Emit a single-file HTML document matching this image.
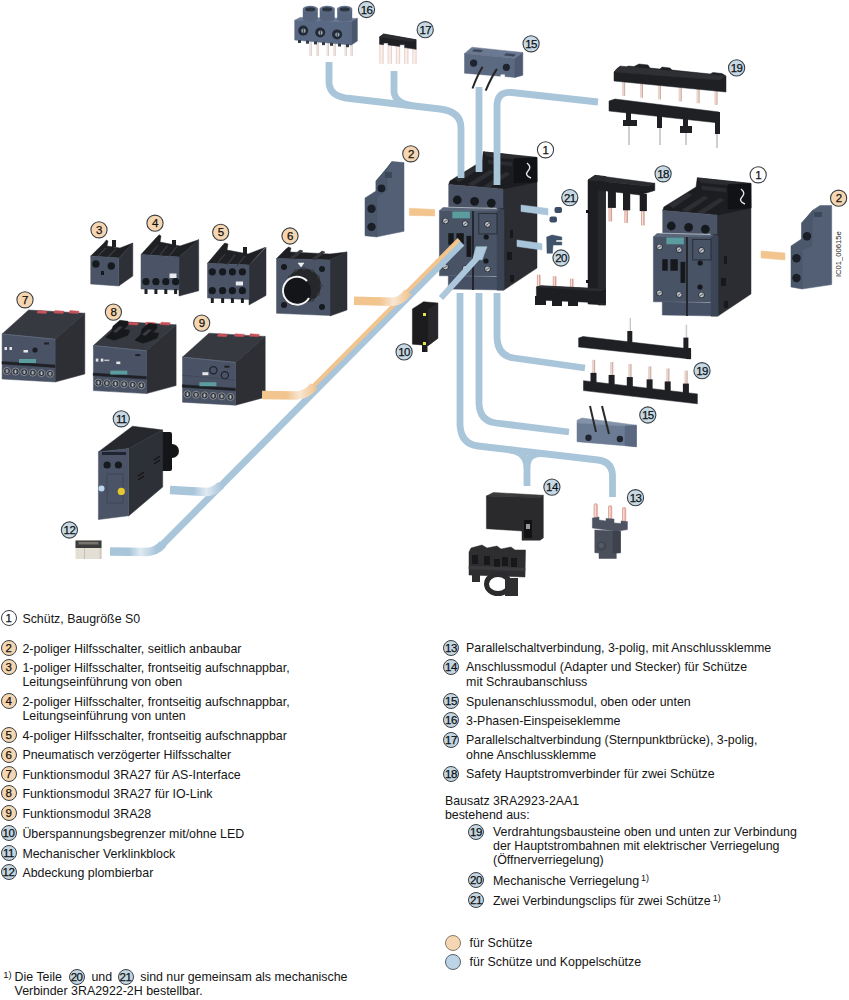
<!DOCTYPE html>
<html><head><meta charset="utf-8">
<style>
html,body{margin:0;padding:0;background:#fff;}
body{width:849px;height:1000px;position:relative;overflow:hidden;font-family:"Liberation Sans",sans-serif;color:#151515;}
.t{position:absolute;font-size:12.4px;line-height:14px;white-space:nowrap;}
.c{position:absolute;width:14px;height:14px;border:1px solid #3a3f44;border-radius:50%;box-sizing:content-box;font-size:11.5px;line-height:14px;text-align:center;letter-spacing:-0.6px;text-indent:-0.6px;color:#111;-webkit-text-stroke:0.25px #111;}
.o{background:#f4d6b0;}
.b{background:#c3d6e2;}
.w{background:#fff;}
svg{position:absolute;left:0;top:0;}
sup{font-size:9px;vertical-align:top;position:relative;top:-3px;margin-left:2px;}
</style></head><body>
<svg id="ill" width="849" height="600" viewBox="0 0 849 600">
<rect x="309.0" y="42" width="2.6" height="14.0" fill="#f1e4e0" />
<rect x="310.90000000000003" y="42" width="0.7" height="14.0" fill="#d4c4c0" />
<rect x="316.0" y="42" width="2.6" height="14.0" fill="#f1e4e0" />
<rect x="317.90000000000003" y="42" width="0.7" height="14.0" fill="#d4c4c0" />
<rect x="326.4" y="42" width="2.6" height="14.0" fill="#f1e4e0" />
<rect x="328.3" y="42" width="0.7" height="14.0" fill="#d4c4c0" />
<rect x="333.0" y="42" width="2.6" height="14.0" fill="#f1e4e0" />
<rect x="334.90000000000003" y="42" width="0.7" height="14.0" fill="#d4c4c0" />
<rect x="344.3" y="42" width="2.6" height="14.0" fill="#f1e4e0" />
<rect x="346.20000000000005" y="42" width="0.7" height="14.0" fill="#d4c4c0" />
<rect x="350.0" y="42" width="2.6" height="14.0" fill="#f1e4e0" />
<rect x="351.90000000000003" y="42" width="0.7" height="14.0" fill="#d4c4c0" />
<polygon points="294.7,20.3 300,17.5 357.4,18.4 351.3,21.7" fill="#6a7a93"  stroke="#6a7a93" stroke-width="0.5" stroke-linejoin="round"/>
<polygon points="294.7,20.3 351.3,21.7 351.3,45 294.7,40" fill="#5a6983"  stroke="#5a6983" stroke-width="0.5" stroke-linejoin="round"/>
<polygon points="351.3,21.7 357.4,18.4 357.4,41 351.3,45" fill="#4a586e"  stroke="#4a586e" stroke-width="0.5" stroke-linejoin="round"/>
<rect x="298" y="40.0" width="3.0" height="3.0" fill="#2f3846" />
<rect x="306" y="40.7" width="3.0" height="3.0" fill="#2f3846" />
<rect x="314" y="41.4" width="3.0" height="3.0" fill="#2f3846" />
<rect x="322" y="42.1" width="3.0" height="3.0" fill="#2f3846" />
<rect x="330" y="42.8" width="3.0" height="3.0" fill="#2f3846" />
<rect x="338" y="43.5" width="3.0" height="3.0" fill="#2f3846" />
<rect x="346" y="44.2" width="3.0" height="3.0" fill="#2f3846" />
<rect x="302.8" y="8.5" width="15.0" height="10.5" fill="#56657d" />
<ellipse cx="310.3" cy="19" rx="7.5" ry="2.5" fill="#56657d"/>
<ellipse cx="310.3" cy="9" rx="7.5" ry="3.2" fill="#64738b"/>
<ellipse cx="310.3" cy="9.4" rx="5.2" ry="2.1" fill="#2c3542"/>
<rect x="319.7" y="8.5" width="15.0" height="10.5" fill="#56657d" />
<ellipse cx="327.2" cy="19" rx="7.5" ry="2.5" fill="#56657d"/>
<ellipse cx="327.2" cy="9" rx="7.5" ry="3.2" fill="#64738b"/>
<ellipse cx="327.2" cy="9.4" rx="5.2" ry="2.1" fill="#2c3542"/>
<rect x="337.2" y="8.5" width="15.0" height="10.5" fill="#56657d" />
<ellipse cx="344.7" cy="19" rx="7.5" ry="2.5" fill="#56657d"/>
<ellipse cx="344.7" cy="9" rx="7.5" ry="3.2" fill="#64738b"/>
<ellipse cx="344.7" cy="9.4" rx="5.2" ry="2.1" fill="#2c3542"/>
<circle cx="303.2" cy="30.6" r="5" fill="#222a36" />
<circle cx="303.5" cy="30.8" r="2.2" fill="#9aa4b2" />
<rect x="302.9" y="28.6" width="0.9" height="4.3" fill="#2a3240" />
<circle cx="320.2" cy="32.5" r="5" fill="#222a36" />
<circle cx="320.5" cy="32.7" r="2.2" fill="#9aa4b2" />
<rect x="319.9" y="30.5" width="0.9" height="4.3" fill="#2a3240" />
<circle cx="337.1" cy="34.4" r="5" fill="#222a36" />
<circle cx="337.40000000000003" cy="34.6" r="2.2" fill="#9aa4b2" />
<rect x="336.8" y="32.4" width="0.9" height="4.3" fill="#2a3240" />
<circle cx="366.5" cy="9.5" r="8.1" fill="#c6d9e5" stroke="#3a3f44" stroke-width="1.1"/>
<text x="366.5" y="13.6" text-anchor="middle" font-size="11.5" letter-spacing="-0.6" fill="#111" stroke="#111" stroke-width="0.25">16</text>
<rect x="379.3" y="43.0" width="4.4" height="20.7" fill="#ecd2cd" />
<rect x="380.3" y="43.0" width="2.2" height="20.7" fill="#f9efed" />
<rect x="387.6" y="44.2" width="4.4" height="19.5" fill="#ecd2cd" />
<rect x="388.6" y="44.2" width="2.2" height="19.5" fill="#f9efed" />
<rect x="395.8" y="45.4" width="4.4" height="18.3" fill="#ecd2cd" />
<rect x="396.8" y="45.4" width="2.2" height="18.3" fill="#f9efed" />
<rect x="404.1" y="46.6" width="4.4" height="17.1" fill="#ecd2cd" />
<rect x="405.1" y="46.6" width="2.2" height="17.1" fill="#f9efed" />
<rect x="412.3" y="47.8" width="4.4" height="15.9" fill="#ecd2cd" />
<rect x="413.3" y="47.8" width="2.2" height="15.9" fill="#f9efed" />
<polygon points="379.5,37 383.6,34 416.2,39.8 416.2,49.3 404.6,47.6 404.6,44.7 399.7,44.7 399.7,46.4 388.1,44.9 388.1,43.1 383.6,43 383.6,44.7 379.5,44.2" fill="#1f2024"  stroke="#1f2024" stroke-width="0.5" stroke-linejoin="round"/>
<polygon points="379.5,37 383.6,34 416.2,39.8 411,41.5" fill="#2c2d31"  stroke="#2c2d31" stroke-width="0.5" stroke-linejoin="round"/>
<circle cx="425.2" cy="29.7" r="8.1" fill="#c6d9e5" stroke="#3a3f44" stroke-width="1.1"/>
<text x="425.2" y="33.8" text-anchor="middle" font-size="11.5" letter-spacing="-0.6" fill="#111" stroke="#111" stroke-width="0.25">17</text>
<polygon points="464.5,53.5 472,47.2 522.8,52.5 515,58.5" fill="#6b7a92"  stroke="#6b7a92" stroke-width="0.5" stroke-linejoin="round"/>
<polygon points="474,49.5 482.6,50.3 481,52 472.5,51.2" fill="#3a4658"  stroke="#3a4658" stroke-width="0.5" stroke-linejoin="round"/>
<polygon points="506,53.6 515.4,54.5 514,56.2 504.5,55.3" fill="#3a4658"  stroke="#3a4658" stroke-width="0.5" stroke-linejoin="round"/>
<polygon points="464.5,53.5 515,58.5 515,77.4 464.5,73.2" fill="#5b6981"  stroke="#5b6981" stroke-width="0.5" stroke-linejoin="round"/>
<polygon points="515,58.5 522.8,52.5 522.8,75.3 515,77.4" fill="#4d5a71"  stroke="#4d5a71" stroke-width="0.5" stroke-linejoin="round"/>
<circle cx="473.6" cy="63.1" r="3.6" fill="#1d2330" />
<circle cx="506.4" cy="67.3" r="3.6" fill="#1d2330" />
<rect x="500.6" y="74.5" width="4.2" height="4.0" fill="#ffffff" />
<path d="M482.6,66.8 Q477,76 472.5,88.5" fill="none" stroke="#262626" stroke-width="2" />
<path d="M496.9,68.9 Q491,78 485.7,90.7" fill="none" stroke="#262626" stroke-width="2" />
<circle cx="531.1" cy="43.8" r="8.1" fill="#c6d9e5" stroke="#3a3f44" stroke-width="1.1"/>
<text x="531.1" y="47.9" text-anchor="middle" font-size="11.5" letter-spacing="-0.6" fill="#111" stroke="#111" stroke-width="0.25">15</text>
<rect x="622.1" y="80.9408" width="3.0" height="15.0" fill="#ecd3cc" />
<rect x="624.4" y="80.9408" width="0.7" height="15.0" fill="#b8a39c" />
<rect x="640.0" y="82.695" width="3.0" height="15.0" fill="#ecd3cc" />
<rect x="642.3" y="82.695" width="0.7" height="15.0" fill="#b8a39c" />
<rect x="657.9" y="84.44919999999999" width="3.0" height="15.0" fill="#ecd3cc" />
<rect x="660.1999999999999" y="84.44919999999999" width="0.7" height="15.0" fill="#b8a39c" />
<rect x="678.6" y="86.4778" width="3.0" height="15.0" fill="#ecd3cc" />
<rect x="680.9" y="86.4778" width="0.7" height="15.0" fill="#b8a39c" />
<rect x="696.5" y="88.232" width="3.0" height="15.0" fill="#ecd3cc" />
<rect x="698.8" y="88.232" width="0.7" height="15.0" fill="#b8a39c" />
<rect x="714.4" y="89.9862" width="3.0" height="15.0" fill="#ecd3cc" />
<rect x="716.6999999999999" y="89.9862" width="0.7" height="15.0" fill="#b8a39c" />
<polygon points="614,72 618,67.5 626,68 628,66 634,66.5 639,64 648,65 650,68 660,69 662,67 670,68 672,70 710,74 713,72.5 722,73.5 726,76 726,92 614,81" fill="#1f2024"  stroke="#1f2024" stroke-width="0.5" stroke-linejoin="round"/>
<polygon points="614,72 620,66 726,76 720,80" fill="#2f3034"  stroke="#2f3034" stroke-width="0.5" stroke-linejoin="round"/>
<rect x="628.2" y="120" width="1.6" height="25.0" fill="#c4c4c4" />
<rect x="659.2" y="120" width="1.6" height="25.0" fill="#c4c4c4" />
<rect x="685.2" y="120" width="1.6" height="25.0" fill="#c4c4c4" />
<rect x="716.2" y="120" width="1.6" height="28.0" fill="#c4c4c4" />
<polygon points="609,101 615,99 719,112 719,123 609,111" fill="#1f2024"  stroke="#1f2024" stroke-width="0.5" stroke-linejoin="round"/>
<rect x="626" y="112" width="5.0" height="10.0" fill="#1f2024" />
<rect x="623" y="120" width="14.0" height="6.0" fill="#1f2024" />
<rect x="657" y="115" width="5.0" height="13.0" fill="#1f2024" />
<rect x="683" y="118" width="5.0" height="9.0" fill="#1f2024" />
<rect x="680" y="126" width="12.0" height="7.0" fill="#1f2024" />
<rect x="715" y="112" width="5.0" height="22.0" fill="#1f2024" />
<circle cx="736.6" cy="67.9" r="8.1" fill="#c6d9e5" stroke="#3a3f44" stroke-width="1.1"/>
<text x="736.6" y="72.0" text-anchor="middle" font-size="11.5" letter-spacing="-0.6" fill="#111" stroke="#111" stroke-width="0.25">19</text>
<g>
<polygon points="497,189 537,157.4 537,268 504,290 497,290" fill="#2b2d32"  stroke="#2b2d32" stroke-width="0.5" stroke-linejoin="round"/>
<polygon points="449.9,180.9 482,161 483.3,151.8 536.5,157.4 537,182 503,189 448.7,184.6" fill="#1c1d20"  stroke="#1c1d20" stroke-width="0.5" stroke-linejoin="round"/>
<polygon points="483.3,151.8 536.5,157.4 532,161 487,156.5" fill="#2a2c30"  stroke="#2a2c30" stroke-width="0.5" stroke-linejoin="round"/>
<polygon points="455,179 474,167 478,169 459,182" fill="#2c2e33"  stroke="#2c2e33" stroke-width="0.5" stroke-linejoin="round"/>
<polygon points="468,184 490,170 494,172 473,186" fill="#2c2e33"  stroke="#2c2e33" stroke-width="0.5" stroke-linejoin="round"/>
<polygon points="484,186 506,172 510,174 489,188" fill="#2c2e33"  stroke="#2c2e33" stroke-width="0.5" stroke-linejoin="round"/>
<polygon points="488,160 512,162.5 512,166 488,163.5" fill="#2a2c31"  stroke="#2a2c31" stroke-width="0.5" stroke-linejoin="round"/>
<polygon points="514,158.6 537,157.5 537,182 514,183" fill="#111215"  stroke="#111215" stroke-width="0.5" stroke-linejoin="round"/>
<path d="M527,163 Q532,167 528,171 Q524,175 531,178" fill="none" stroke="#e6e6e6" stroke-width="1.4" />
<polygon points="448.7,184.6 503,188.9 503,208 448.7,206.8" fill="#4a5466"  stroke="#4a5466" stroke-width="0.5" stroke-linejoin="round"/>
<circle cx="457.3" cy="200" r="4.4" fill="#16191e" />
<circle cx="474.6" cy="201.3" r="4.4" fill="#16191e" />
<circle cx="491.3" cy="203.1" r="4.4" fill="#16191e" />
<polygon points="439.4,210.8 443,207.5 500,209 497,211" fill="#5a677b"  stroke="#5a677b" stroke-width="0.5" stroke-linejoin="round"/>
<polygon points="439.4,210.8 497,211 497,276 439.4,275.8" fill="#485365"  stroke="#485365" stroke-width="0.5" stroke-linejoin="round"/>
<polygon points="448.3,275.8 503.8,277 503.8,290 448.3,289" fill="#465166"  stroke="#465166" stroke-width="0.5" stroke-linejoin="round"/>
<polygon points="497,211 500,209 504,210 504,290 497,290" fill="#3b4556"  stroke="#3b4556" stroke-width="0.5" stroke-linejoin="round"/>
<rect x="472" y="211" width="2.0" height="79.0" fill="#23262c" />
<rect x="452.3" y="211.5" width="17.6" height="6.8" fill="#5b9c9f" />
<circle cx="445.5" cy="221" r="3.1" fill="#2a2e35" />
<circle cx="445.5" cy="221" r="2.4" fill="#bfc3c8" />
<path d="M443.9,222.2 L447.1,219.8" fill="none" stroke="#4a4f57" stroke-width="0.9" />
<circle cx="465.2" cy="223.7" r="3.1" fill="#2a2e35" />
<circle cx="465.2" cy="223.7" r="2.4" fill="#bfc3c8" />
<path d="M463.59999999999997,224.89999999999998 L466.8,222.5" fill="none" stroke="#4a4f57" stroke-width="0.9" />
<circle cx="487.5" cy="224.4" r="3.1" fill="#2a2e35" />
<circle cx="487.5" cy="224.4" r="2.4" fill="#bfc3c8" />
<path d="M485.9,225.6 L489.1,223.20000000000002" fill="none" stroke="#4a4f57" stroke-width="0.9" />
<circle cx="445.5" cy="267" r="3.1" fill="#2a2e35" />
<circle cx="445.5" cy="267" r="2.4" fill="#bfc3c8" />
<path d="M443.9,268.2 L447.1,265.8" fill="none" stroke="#4a4f57" stroke-width="0.9" />
<circle cx="465.2" cy="268.5" r="3.1" fill="#2a2e35" />
<circle cx="465.2" cy="268.5" r="2.4" fill="#bfc3c8" />
<path d="M463.59999999999997,269.7 L466.8,267.3" fill="none" stroke="#4a4f57" stroke-width="0.9" />
<circle cx="487.5" cy="269" r="3.1" fill="#2a2e35" />
<circle cx="487.5" cy="269" r="2.4" fill="#bfc3c8" />
<path d="M485.9,270.2 L489.1,267.8" fill="none" stroke="#4a4f57" stroke-width="0.9" />
<rect x="448.3" y="233.2" width="5.4" height="11.5" fill="#16181c" />
<rect x="456.4" y="233.2" width="7.4" height="11.5" fill="#16181c" />
<rect x="466.5" y="235.9" width="4.8" height="21.0" fill="#16181c" />
<rect x="478.7" y="213.5" width="18.3" height="20.4" fill="none" stroke="#2a2f38" stroke-width="1"/>
<circle cx="486.2" cy="237" r="2.6" fill="#16181c" />
<circle cx="486" cy="261" r="2.6" fill="#16181c" />
<rect x="510" y="230" width="3.0" height="8.0" fill="#16181c" />
<rect x="507" y="252" width="5.0" height="8.0" fill="#16181c" />
<rect x="510" y="275" width="4.0" height="7.0" fill="#16181c" />
</g><g transform="translate(214,26)">
<polygon points="497,189 537,157.4 537,268 504,290 497,290" fill="#2b2d32"  stroke="#2b2d32" stroke-width="0.5" stroke-linejoin="round"/>
<polygon points="449.9,180.9 482,161 483.3,151.8 536.5,157.4 537,182 503,189 448.7,184.6" fill="#1c1d20"  stroke="#1c1d20" stroke-width="0.5" stroke-linejoin="round"/>
<polygon points="483.3,151.8 536.5,157.4 532,161 487,156.5" fill="#2a2c30"  stroke="#2a2c30" stroke-width="0.5" stroke-linejoin="round"/>
<polygon points="455,179 474,167 478,169 459,182" fill="#2c2e33"  stroke="#2c2e33" stroke-width="0.5" stroke-linejoin="round"/>
<polygon points="468,184 490,170 494,172 473,186" fill="#2c2e33"  stroke="#2c2e33" stroke-width="0.5" stroke-linejoin="round"/>
<polygon points="484,186 506,172 510,174 489,188" fill="#2c2e33"  stroke="#2c2e33" stroke-width="0.5" stroke-linejoin="round"/>
<polygon points="488,160 512,162.5 512,166 488,163.5" fill="#2a2c31"  stroke="#2a2c31" stroke-width="0.5" stroke-linejoin="round"/>
<polygon points="514,158.6 537,157.5 537,182 514,183" fill="#111215"  stroke="#111215" stroke-width="0.5" stroke-linejoin="round"/>
<path d="M527,163 Q532,167 528,171 Q524,175 531,178" fill="none" stroke="#e6e6e6" stroke-width="1.4" />
<polygon points="448.7,184.6 503,188.9 503,208 448.7,206.8" fill="#4a5466"  stroke="#4a5466" stroke-width="0.5" stroke-linejoin="round"/>
<circle cx="457.3" cy="200" r="4.4" fill="#16191e" />
<circle cx="474.6" cy="201.3" r="4.4" fill="#16191e" />
<circle cx="491.3" cy="203.1" r="4.4" fill="#16191e" />
<polygon points="439.4,210.8 443,207.5 500,209 497,211" fill="#5a677b"  stroke="#5a677b" stroke-width="0.5" stroke-linejoin="round"/>
<polygon points="439.4,210.8 497,211 497,276 439.4,275.8" fill="#485365"  stroke="#485365" stroke-width="0.5" stroke-linejoin="round"/>
<polygon points="448.3,275.8 503.8,277 503.8,290 448.3,289" fill="#465166"  stroke="#465166" stroke-width="0.5" stroke-linejoin="round"/>
<polygon points="497,211 500,209 504,210 504,290 497,290" fill="#3b4556"  stroke="#3b4556" stroke-width="0.5" stroke-linejoin="round"/>
<rect x="472" y="211" width="2.0" height="79.0" fill="#23262c" />
<rect x="452.3" y="211.5" width="17.6" height="6.8" fill="#5b9c9f" />
<circle cx="445.5" cy="221" r="3.1" fill="#2a2e35" />
<circle cx="445.5" cy="221" r="2.4" fill="#bfc3c8" />
<path d="M443.9,222.2 L447.1,219.8" fill="none" stroke="#4a4f57" stroke-width="0.9" />
<circle cx="465.2" cy="223.7" r="3.1" fill="#2a2e35" />
<circle cx="465.2" cy="223.7" r="2.4" fill="#bfc3c8" />
<path d="M463.59999999999997,224.89999999999998 L466.8,222.5" fill="none" stroke="#4a4f57" stroke-width="0.9" />
<circle cx="487.5" cy="224.4" r="3.1" fill="#2a2e35" />
<circle cx="487.5" cy="224.4" r="2.4" fill="#bfc3c8" />
<path d="M485.9,225.6 L489.1,223.20000000000002" fill="none" stroke="#4a4f57" stroke-width="0.9" />
<circle cx="445.5" cy="267" r="3.1" fill="#2a2e35" />
<circle cx="445.5" cy="267" r="2.4" fill="#bfc3c8" />
<path d="M443.9,268.2 L447.1,265.8" fill="none" stroke="#4a4f57" stroke-width="0.9" />
<circle cx="465.2" cy="268.5" r="3.1" fill="#2a2e35" />
<circle cx="465.2" cy="268.5" r="2.4" fill="#bfc3c8" />
<path d="M463.59999999999997,269.7 L466.8,267.3" fill="none" stroke="#4a4f57" stroke-width="0.9" />
<circle cx="487.5" cy="269" r="3.1" fill="#2a2e35" />
<circle cx="487.5" cy="269" r="2.4" fill="#bfc3c8" />
<path d="M485.9,270.2 L489.1,267.8" fill="none" stroke="#4a4f57" stroke-width="0.9" />
<rect x="448.3" y="233.2" width="5.4" height="11.5" fill="#16181c" />
<rect x="456.4" y="233.2" width="7.4" height="11.5" fill="#16181c" />
<rect x="466.5" y="235.9" width="4.8" height="21.0" fill="#16181c" />
<rect x="478.7" y="213.5" width="18.3" height="20.4" fill="none" stroke="#2a2f38" stroke-width="1"/>
<circle cx="486.2" cy="237" r="2.6" fill="#16181c" />
<circle cx="486" cy="261" r="2.6" fill="#16181c" />
<rect x="510" y="230" width="3.0" height="8.0" fill="#16181c" />
<rect x="507" y="252" width="5.0" height="8.0" fill="#16181c" />
<rect x="510" y="275" width="4.0" height="7.0" fill="#16181c" />
</g>
<circle cx="545.5" cy="149.8" r="8.1" fill="#ffffff" stroke="#3a3f44" stroke-width="1.1"/>
<text x="545.5" y="153.9" text-anchor="middle" font-size="11.5" letter-spacing="-0.6" fill="#111" stroke="#111" stroke-width="0.25">1</text>
<circle cx="758.2" cy="174.8" r="8.1" fill="#ffffff" stroke="#3a3f44" stroke-width="1.1"/>
<text x="758.2" y="178.9" text-anchor="middle" font-size="11.5" letter-spacing="-0.6" fill="#111" stroke="#111" stroke-width="0.25">1</text>
<rect x="608.5" y="206" width="3.6" height="15.4" fill="#d9a196" />
<rect x="609.4" y="206" width="1.2" height="15.4" fill="#f5e2dc" />
<rect x="624.4000000000001" y="208" width="3.6" height="15.0" fill="#d9a196" />
<rect x="625.3000000000001" y="208" width="1.2" height="15.0" fill="#f5e2dc" />
<rect x="641.1" y="209" width="3.6" height="16.4" fill="#d9a196" />
<rect x="642.0" y="209" width="1.2" height="16.4" fill="#f5e2dc" />
<rect x="536.9000000000001" y="274.7" width="3.6" height="14.3" fill="#d9a196" />
<rect x="537.8000000000001" y="274.7" width="1.2" height="14.3" fill="#f5e2dc" />
<rect x="552.8000000000001" y="276.3" width="3.6" height="14.7" fill="#d9a196" />
<rect x="553.7" y="276.3" width="1.2" height="14.7" fill="#f5e2dc" />
<rect x="569.9000000000001" y="278.7" width="3.6" height="14.3" fill="#d9a196" />
<rect x="570.8000000000001" y="278.7" width="1.2" height="14.3" fill="#f5e2dc" />
<polygon points="588,180 595,175.3 605.5,176.5 605.5,305 588,304" fill="#1d1e21"  stroke="#1d1e21" stroke-width="0.5" stroke-linejoin="round"/>
<polygon points="598,177 605.5,176.5 605.5,305 598,305" fill="#26272b"  stroke="#26272b" stroke-width="0.5" stroke-linejoin="round"/>
<polygon points="588,180 595,175.3 654.8,183.3 648,186" fill="#2b2c30"  stroke="#2b2c30" stroke-width="0.5" stroke-linejoin="round"/>
<polygon points="598,181 648,186 654.8,183.3 654.8,190.4 640,195 598,190" fill="#1d1e21"  stroke="#1d1e21" stroke-width="0.5" stroke-linejoin="round"/>
<rect x="607.9" y="190" width="8.0" height="17.9" fill="#1d1e21" />
<rect x="623" y="192" width="7.2" height="18.3" fill="#1d1e21" />
<rect x="639.7" y="194" width="7.2" height="17.1" fill="#1d1e21" />
<polygon points="536.4,287 541,285.8 605.5,289 605.5,303 536.4,300" fill="#1d1e21"  stroke="#1d1e21" stroke-width="0.5" stroke-linejoin="round"/>
<polygon points="536.4,287 541,285.8 605.5,289 600,291" fill="#2b2c30"  stroke="#2b2c30" stroke-width="0.5" stroke-linejoin="round"/>
<rect x="535" y="296" width="11.0" height="9.0" fill="#1d1e21" />
<rect x="552" y="297" width="10.0" height="9.0" fill="#1d1e21" />
<rect x="568" y="298" width="10.0" height="8.0" fill="#1d1e21" />
<rect x="586" y="210" width="3.0" height="3.0" fill="#111" />
<rect x="586" y="280" width="3.0" height="3.0" fill="#111" />
<circle cx="663.1" cy="173.8" r="8.1" fill="#c6d9e5" stroke="#3a3f44" stroke-width="1.1"/>
<text x="663.1" y="177.9" text-anchor="middle" font-size="11.5" letter-spacing="-0.6" fill="#111" stroke="#111" stroke-width="0.25">18</text>
<rect x="554.5" y="207" width="7.5" height="6" rx="2" fill="#3c4e66"/>
<rect x="549.5" y="216.5" width="7.5" height="6" rx="2" fill="#3c4e66"/>
<polygon points="546.7,237 552,235 561.8,237 561.8,240 556,240 556,242 561.8,242 561.8,245 553,245 552.5,253.2 547,253.2" fill="#3f536b"  stroke="#3f536b" stroke-width="0.5" stroke-linejoin="round"/>
<circle cx="569.8" cy="197.6" r="8.1" fill="#c6d9e5" stroke="#3a3f44" stroke-width="1.1"/>
<text x="569.8" y="201.7" text-anchor="middle" font-size="11.5" letter-spacing="-0.6" fill="#111" stroke="#111" stroke-width="0.25">21</text>
<circle cx="561" cy="258" r="8.1" fill="#c6d9e5" stroke="#3a3f44" stroke-width="1.1"/>
<text x="561" y="262.1" text-anchor="middle" font-size="11.5" letter-spacing="-0.6" fill="#111" stroke="#111" stroke-width="0.25">20</text>
<path d="M329,62 L329,83 Q330,97 350,98.5 L440,109 Q461,111.5 461,128 L461,178" fill="none" stroke="#a9c5da" stroke-width="6.8" />
<path d="M394,71 L394,92 Q395,103 412,105.5" fill="none" stroke="#a9c5da" stroke-width="6.8" />
<path d="M479,87 L479,172" fill="none" stroke="#a9c5da" stroke-width="6.8" />
<path d="M598,102 L512,92.5 Q497,91 497,106 L497,185" fill="none" stroke="#a9c5da" stroke-width="6.8" />
<polygon points="521,205 548,208.5 548,215 521,211.5" fill="#a9c5da"  stroke="#a9c5da" stroke-width="0.5" stroke-linejoin="round"/>
<polygon points="517,240 542,243.5 542,250 517,246.5" fill="#a9c5da"  stroke="#a9c5da" stroke-width="0.5" stroke-linejoin="round"/>
<polygon points="409.4,208.2 434.7,209.5 434.7,216 409.4,215.4" fill="#f2c48e"  stroke="#f2c48e" stroke-width="0.5" stroke-linejoin="round"/>
<polygon points="761,251 785,253 785,260 761,258" fill="#f2c48e"  stroke="#f2c48e" stroke-width="0.5" stroke-linejoin="round"/>
<polygon points="376,181 387,168 392,161.5 404,162.6 404,231.3 377,236.8" fill="#535f74"  stroke="#535f74" stroke-width="0.5" stroke-linejoin="round"/>
<polygon points="365,198 376,191 376,181 387,168 392,161.5 387,170 387,190 377,197 377,237 365,235.7" fill="#4b576b"  stroke="#4b576b" stroke-width="0.5" stroke-linejoin="round"/>
<circle cx="371.5" cy="208.8" r="4.2" fill="#1a1e26" />
<circle cx="371.5" cy="226.9" r="4.2" fill="#1a1e26" />
<circle cx="381.5" cy="188.4" r="3.8" fill="#1a1e26" />
<rect x="385" y="172" width="7.0" height="6.0" fill="#3c475a" />
<circle cx="410.8" cy="153.8" r="8.1" fill="#f5d6b0" stroke="#3a3f44" stroke-width="1.1"/>
<text x="410.8" y="157.9" text-anchor="middle" font-size="11.5" letter-spacing="-0.6" fill="#111" stroke="#111" stroke-width="0.25">2</text>
<polygon points="802,223 813,210 820,205.6 831.7,205.4 831.7,284.6 802,289" fill="#535f74"  stroke="#535f74" stroke-width="0.5" stroke-linejoin="round"/>
<polygon points="791,246 801.5,239 801.5,223 813,210 813,215 812,230 812,246 802,250 802,289 791,287" fill="#4b576b"  stroke="#4b576b" stroke-width="0.5" stroke-linejoin="round"/>
<circle cx="807" cy="236.2" r="4.2" fill="#1a1e26" />
<circle cx="796.5" cy="258.2" r="4.2" fill="#1a1e26" />
<circle cx="796.5" cy="278" r="4.2" fill="#1a1e26" />
<rect x="814" y="212" width="8.0" height="5.0" fill="#3c475a" />
<circle cx="838.6" cy="198.2" r="8.1" fill="#f5d6b0" stroke="#3a3f44" stroke-width="1.1"/>
<text x="838.6" y="202.29999999999998" text-anchor="middle" font-size="11.5" letter-spacing="-0.6" fill="#111" stroke="#111" stroke-width="0.25">2</text>
<text transform="translate(841,277) rotate(-90)" font-size="7.6" fill="#222">IC01_00615e</text>
<polygon points="90.7,256 104,243 106.4,240 108,241 107,246 120,248 132.8,243 118.75,258" fill="#1f2024"  stroke="#1f2024" stroke-width="0.5" stroke-linejoin="round"/>
<polygon points="118.75,258 132.8,243 132.8,276 118.75,286" fill="#2d3037"  stroke="#2d3037" stroke-width="0.5" stroke-linejoin="round"/>
<polygon points="90.7,256 118.75,258 118.75,286 90.7,284" fill="#4a5466"  stroke="#4a5466" stroke-width="0.5" stroke-linejoin="round"/>
<circle cx="95.9" cy="264" r="3.7" fill="#16191e" />
<circle cx="111.3" cy="266" r="3.7" fill="#16191e" />
<rect x="101" y="271" width="3.0" height="4.0" fill="#16191e" />
<path d="M98,256 L106,248" fill="none" stroke="#3a3c41" stroke-width="1.2" />
<path d="M108,257 L116,249" fill="none" stroke="#3a3c41" stroke-width="1.2" />
<rect x="112" y="240" width="4.0" height="7.0" fill="#1f2024" />
<circle cx="99" cy="229.8" r="8.1" fill="#f5d6b0" stroke="#3a3f44" stroke-width="1.1"/>
<text x="99" y="233.9" text-anchor="middle" font-size="11.5" letter-spacing="-0.6" fill="#111" stroke="#111" stroke-width="0.25">3</text>
<polygon points="141,254.5 156,238 159.2,234.7 161,236 160,242 180,246 198.7,239.7 179,257" fill="#1f2024"  stroke="#1f2024" stroke-width="0.5" stroke-linejoin="round"/>
<polygon points="179,257 198.7,239.7 198.7,290.8 179,296" fill="#2d3037"  stroke="#2d3037" stroke-width="0.5" stroke-linejoin="round"/>
<polygon points="141,254.5 179,257 179,290 141,289" fill="#4a5466"  stroke="#4a5466" stroke-width="0.5" stroke-linejoin="round"/>
<circle cx="146" cy="281.7" r="3.6" fill="#16191e" />
<rect x="144.5" y="289" width="3.0" height="5.0" fill="#1f2024" />
<circle cx="155.9" cy="281.7" r="3.6" fill="#16191e" />
<rect x="154.4" y="289" width="3.0" height="5.0" fill="#1f2024" />
<circle cx="165.8" cy="281.7" r="3.6" fill="#16191e" />
<rect x="164.3" y="289" width="3.0" height="5.0" fill="#1f2024" />
<circle cx="175.6" cy="281.7" r="3.6" fill="#16191e" />
<rect x="174.1" y="289" width="3.0" height="5.0" fill="#1f2024" />
<rect x="169.5" y="273.5" width="7.0" height="4.5" fill="#e8eaee" />
<path d="M150.0,255.0 L158.0,245.0" fill="none" stroke="#3a3c41" stroke-width="1.2" />
<path d="M159.5,255.7 L167.5,245.7" fill="none" stroke="#3a3c41" stroke-width="1.2" />
<path d="M169.0,256.4 L177.0,246.4" fill="none" stroke="#3a3c41" stroke-width="1.2" />
<rect x="172" y="240" width="4.0" height="7.0" fill="#1f2024" />
<circle cx="155" cy="223.2" r="8.1" fill="#f5d6b0" stroke="#3a3f44" stroke-width="1.1"/>
<text x="155" y="227.29999999999998" text-anchor="middle" font-size="11.5" letter-spacing="-0.6" fill="#111" stroke="#111" stroke-width="0.25">4</text>
<polygon points="207.5,263.3 222,246 224.7,243 228,244 227,250 248,254 265,247.4 249,265" fill="#1f2024"  stroke="#1f2024" stroke-width="0.5" stroke-linejoin="round"/>
<polygon points="249,265 266,247.3 266,295.4 249,305" fill="#2d3037"  stroke="#2d3037" stroke-width="0.5" stroke-linejoin="round"/>
<polygon points="207.5,263.3 249,265 249,299.5 207.5,298" fill="#4a5466"  stroke="#4a5466" stroke-width="0.5" stroke-linejoin="round"/>
<circle cx="212.3" cy="271.8" r="3.6" fill="#16191e" />
<circle cx="212.3" cy="290.7" r="3.6" fill="#16191e" />
<rect x="210.8" y="298" width="3.0" height="5.0" fill="#1f2024" />
<circle cx="222.6" cy="271.8" r="3.6" fill="#16191e" />
<circle cx="222.6" cy="290.7" r="3.6" fill="#16191e" />
<rect x="221.1" y="298" width="3.0" height="5.0" fill="#1f2024" />
<circle cx="232.4" cy="271.8" r="3.6" fill="#16191e" />
<circle cx="232.4" cy="290.7" r="3.6" fill="#16191e" />
<rect x="230.9" y="298" width="3.0" height="5.0" fill="#1f2024" />
<circle cx="242.4" cy="271.8" r="3.6" fill="#16191e" />
<circle cx="242.4" cy="290.7" r="3.6" fill="#16191e" />
<rect x="240.9" y="298" width="3.0" height="5.0" fill="#1f2024" />
<rect x="235.8" y="281.5" width="7.2" height="4.0" fill="#e8eaee" />
<path d="M217,264.0 L225,254.0" fill="none" stroke="#3a3c41" stroke-width="1.2" />
<path d="M227,264.9 L235,254.9" fill="none" stroke="#3a3c41" stroke-width="1.2" />
<path d="M237,265.8 L245,255.8" fill="none" stroke="#3a3c41" stroke-width="1.2" />
<rect x="243" y="247" width="4.0" height="7.0" fill="#1f2024" />
<circle cx="220.7" cy="232.3" r="8.1" fill="#f5d6b0" stroke="#3a3f44" stroke-width="1.1"/>
<text x="220.7" y="236.4" text-anchor="middle" font-size="11.5" letter-spacing="-0.6" fill="#111" stroke="#111" stroke-width="0.25">5</text>
<polygon points="276.5,258.6 286,249 288.6,247 291,248 290,252 330,254 347,252 330,260" fill="#1f2024"  stroke="#1f2024" stroke-width="0.5" stroke-linejoin="round"/>
<polygon points="330,260 347,252 347,310 330,316" fill="#2d3037"  stroke="#2d3037" stroke-width="0.5" stroke-linejoin="round"/>
<polygon points="276.5,258.6 330,260 330,315.5 276.5,313.3" fill="#4a5466"  stroke="#4a5466" stroke-width="0.5" stroke-linejoin="round"/>
<circle cx="284" cy="267" r="3" fill="#16191e" />
<circle cx="322" cy="269" r="3" fill="#16191e" />
<circle cx="284" cy="305" r="3" fill="#16191e" />
<circle cx="322" cy="307" r="3" fill="#16191e" />
<circle cx="304" cy="285.5" r="17" fill="#25272b" />
<circle cx="321.0" cy="285.5" r="1.6" fill="#3a3d42" />
<circle cx="318.7" cy="294.0" r="1.6" fill="#3a3d42" />
<circle cx="312.5" cy="300.2" r="1.6" fill="#3a3d42" />
<circle cx="304.0" cy="302.5" r="1.6" fill="#3a3d42" />
<circle cx="295.5" cy="300.2" r="1.6" fill="#3a3d42" />
<circle cx="289.3" cy="294.0" r="1.6" fill="#3a3d42" />
<circle cx="287.0" cy="285.5" r="1.6" fill="#3a3d42" />
<circle cx="289.3" cy="277.0" r="1.6" fill="#3a3d42" />
<circle cx="295.5" cy="270.8" r="1.6" fill="#3a3d42" />
<circle cx="304.0" cy="268.5" r="1.6" fill="#3a3d42" />
<circle cx="312.5" cy="270.8" r="1.6" fill="#3a3d42" />
<circle cx="318.7" cy="277.0" r="1.6" fill="#3a3d42" />
<circle cx="296.5" cy="291.5" r="14.5" fill="#141518" />
<path d="M307,281 A14,14 0 1 0 309,298" fill="none" stroke="#f4f4f4" stroke-width="2"/>
<polygon points="298,263 304,263 301,267" fill="#f0f0f0"  stroke="#f0f0f0" stroke-width="0.5" stroke-linejoin="round"/>
<polygon points="290,258 300,250 303,251 293,259" fill="#34363b"  stroke="#34363b" stroke-width="0.5" stroke-linejoin="round"/>
<polygon points="312,259 322,251 325,252 315,260" fill="#34363b"  stroke="#34363b" stroke-width="0.5" stroke-linejoin="round"/>
<circle cx="290" cy="236" r="8.1" fill="#f5d6b0" stroke="#3a3f44" stroke-width="1.1"/>
<text x="290" y="240.1" text-anchor="middle" font-size="11.5" letter-spacing="-0.6" fill="#111" stroke="#111" stroke-width="0.25">6</text>
<g transform="translate(0,0)">
<polygon points="2.1,333.9 28.6,310 84.8,313.2 55.1,339.2" fill="#36393f"  stroke="#36393f" stroke-width="0.5" stroke-linejoin="round"/>
<polygon points="38,310.6 47,311.2 46,313.5 37,313" fill="#c9505a"  stroke="#c9505a" stroke-width="0.5" stroke-linejoin="round"/>
<polygon points="55,310.6 64,311.2 63,313.5 54,313" fill="#c9505a"  stroke="#c9505a" stroke-width="0.5" stroke-linejoin="round"/>
<polygon points="70,310.6 79,311.2 78,313.5 69,313" fill="#c9505a"  stroke="#c9505a" stroke-width="0.5" stroke-linejoin="round"/>
<polygon points="55.1,339.2 84.8,313.2 84.8,374 55.1,382" fill="#2d2f34"  stroke="#2d2f34" stroke-width="0.5" stroke-linejoin="round"/>
<polygon points="2.1,333.9 55.1,339.2 55.1,382 2.1,379" fill="#4a5365"  stroke="#4a5365" stroke-width="0.5" stroke-linejoin="round"/>
<path d="M2.1,334 L55.1,339.3" fill="none" stroke="#5d677a" stroke-width="1" />
<polygon points="2,361.5 55,365 55,367.5 2,364" fill="#1e2126"  stroke="#1e2126" stroke-width="0.5" stroke-linejoin="round"/>
<circle cx="7.0" cy="371.0" r="3.5" fill="#2d3036" stroke="#8f959d" stroke-width="0.9"/>
<circle cx="7.0" cy="371.0" r="1.9" fill="#6d737b" />
<rect x="6.6" y="369.2" width="0.8" height="3.6" fill="#d0d3d7" />
<circle cx="15.6" cy="371.55" r="3.5" fill="#2d3036" stroke="#8f959d" stroke-width="0.9"/>
<circle cx="15.6" cy="371.55" r="1.9" fill="#6d737b" />
<rect x="15.2" y="369.75" width="0.8" height="3.6" fill="#d0d3d7" />
<circle cx="24.2" cy="372.1" r="3.5" fill="#2d3036" stroke="#8f959d" stroke-width="0.9"/>
<circle cx="24.2" cy="372.1" r="1.9" fill="#6d737b" />
<rect x="23.8" y="370.3" width="0.8" height="3.6" fill="#d0d3d7" />
<circle cx="32.8" cy="372.65" r="3.5" fill="#2d3036" stroke="#8f959d" stroke-width="0.9"/>
<circle cx="32.8" cy="372.65" r="1.9" fill="#6d737b" />
<rect x="32.4" y="370.84999999999997" width="0.8" height="3.6" fill="#d0d3d7" />
<circle cx="41.4" cy="373.2" r="3.5" fill="#2d3036" stroke="#8f959d" stroke-width="0.9"/>
<circle cx="41.4" cy="373.2" r="1.9" fill="#6d737b" />
<rect x="41.0" y="371.4" width="0.8" height="3.6" fill="#d0d3d7" />
<circle cx="50.0" cy="373.75" r="3.5" fill="#2d3036" stroke="#8f959d" stroke-width="0.9"/>
<circle cx="50.0" cy="373.75" r="1.9" fill="#6d737b" />
<rect x="49.6" y="371.95" width="0.8" height="3.6" fill="#d0d3d7" />
<rect x="19" y="359" width="17.0" height="4.0" fill="#5b9c9f" />
<rect x="44" y="342.5" width="5.0" height="2.0" fill="#1e2126" />
<rect x="4.5" y="347" width="2.5" height="3.0" fill="#e6e6e6" />
<rect x="9.5" y="347" width="2.5" height="3.0" fill="#e6e6e6" />
<circle cx="35" cy="350" r="2.6" fill="#1a1d22" />
<rect x="23.5" y="350" width="4.5" height="2.5" fill="#e6e6e6" />
</g>
<g transform="translate(91.3,11.6)">
<polygon points="2.1,333.9 28.6,310 84.8,313.2 55.1,339.2" fill="#36393f"  stroke="#36393f" stroke-width="0.5" stroke-linejoin="round"/>
<polygon points="38,310.6 47,311.2 46,313.5 37,313" fill="#c9505a"  stroke="#c9505a" stroke-width="0.5" stroke-linejoin="round"/>
<polygon points="55,310.6 64,311.2 63,313.5 54,313" fill="#c9505a"  stroke="#c9505a" stroke-width="0.5" stroke-linejoin="round"/>
<polygon points="70,310.6 79,311.2 78,313.5 69,313" fill="#c9505a"  stroke="#c9505a" stroke-width="0.5" stroke-linejoin="round"/>
<polygon points="55.1,339.2 84.8,313.2 84.8,374 55.1,382" fill="#2d2f34"  stroke="#2d2f34" stroke-width="0.5" stroke-linejoin="round"/>
<polygon points="2.1,333.9 55.1,339.2 55.1,382 2.1,379" fill="#4a5365"  stroke="#4a5365" stroke-width="0.5" stroke-linejoin="round"/>
<path d="M2.1,334 L55.1,339.3" fill="none" stroke="#5d677a" stroke-width="1" />
<polygon points="2,361.5 55,365 55,367.5 2,364" fill="#1e2126"  stroke="#1e2126" stroke-width="0.5" stroke-linejoin="round"/>
<circle cx="7.0" cy="371.0" r="3.5" fill="#2d3036" stroke="#8f959d" stroke-width="0.9"/>
<circle cx="7.0" cy="371.0" r="1.9" fill="#6d737b" />
<rect x="6.6" y="369.2" width="0.8" height="3.6" fill="#d0d3d7" />
<circle cx="15.6" cy="371.55" r="3.5" fill="#2d3036" stroke="#8f959d" stroke-width="0.9"/>
<circle cx="15.6" cy="371.55" r="1.9" fill="#6d737b" />
<rect x="15.2" y="369.75" width="0.8" height="3.6" fill="#d0d3d7" />
<circle cx="24.2" cy="372.1" r="3.5" fill="#2d3036" stroke="#8f959d" stroke-width="0.9"/>
<circle cx="24.2" cy="372.1" r="1.9" fill="#6d737b" />
<rect x="23.8" y="370.3" width="0.8" height="3.6" fill="#d0d3d7" />
<circle cx="32.8" cy="372.65" r="3.5" fill="#2d3036" stroke="#8f959d" stroke-width="0.9"/>
<circle cx="32.8" cy="372.65" r="1.9" fill="#6d737b" />
<rect x="32.4" y="370.84999999999997" width="0.8" height="3.6" fill="#d0d3d7" />
<circle cx="41.4" cy="373.2" r="3.5" fill="#2d3036" stroke="#8f959d" stroke-width="0.9"/>
<circle cx="41.4" cy="373.2" r="1.9" fill="#6d737b" />
<rect x="41.0" y="371.4" width="0.8" height="3.6" fill="#d0d3d7" />
<circle cx="50.0" cy="373.75" r="3.5" fill="#2d3036" stroke="#8f959d" stroke-width="0.9"/>
<circle cx="50.0" cy="373.75" r="1.9" fill="#6d737b" />
<rect x="49.6" y="371.95" width="0.8" height="3.6" fill="#d0d3d7" />
<rect x="19" y="359" width="17.0" height="4.0" fill="#5b9c9f" />
<rect x="44" y="342.5" width="5.0" height="2.0" fill="#1e2126" />
<rect x="4.5" y="347" width="2.5" height="3.0" fill="#e6e6e6" />
<rect x="9.5" y="347" width="2.5" height="3.0" fill="#e6e6e6" />
<rect x="13" y="348" width="5.0" height="1.5" fill="#c0c4ca" />
<rect x="25" y="350" width="4.0" height="2.5" fill="#e6e6e6" />
<polygon points="14.6,325.7 20.6,319.7 21.6,314.7 28.6,308.7 36.6,309.7 36.6,313.7 32.6,317.7 38.6,318.7 36.6,323.7 28.6,326.7 22.6,328.7" fill="#17181b"  stroke="#17181b" stroke-width="0.5" stroke-linejoin="round"/>
<polygon points="22,320 28,315 31,315.5 25,321" fill="#3a3d43"  stroke="#3a3d43" stroke-width="0.5" stroke-linejoin="round"/>
<polygon points="43.6,328.7 49.6,322.7 50.6,317.7 57.6,311.7 65.6,312.7 65.6,316.7 61.6,320.7 67.6,321.7 65.6,326.7 57.6,329.7 51.6,331.7" fill="#17181b"  stroke="#17181b" stroke-width="0.5" stroke-linejoin="round"/>
<polygon points="51,323 57,318 60,318.5 54,324" fill="#3a3d43"  stroke="#3a3d43" stroke-width="0.5" stroke-linejoin="round"/>
</g>
<g transform="translate(180.4,23.2)">
<polygon points="2.1,333.9 28.6,310 84.8,313.2 55.1,339.2" fill="#36393f"  stroke="#36393f" stroke-width="0.5" stroke-linejoin="round"/>
<polygon points="38,310.6 47,311.2 46,313.5 37,313" fill="#c9505a"  stroke="#c9505a" stroke-width="0.5" stroke-linejoin="round"/>
<polygon points="55,310.6 64,311.2 63,313.5 54,313" fill="#c9505a"  stroke="#c9505a" stroke-width="0.5" stroke-linejoin="round"/>
<polygon points="70,310.6 79,311.2 78,313.5 69,313" fill="#c9505a"  stroke="#c9505a" stroke-width="0.5" stroke-linejoin="round"/>
<polygon points="55.1,339.2 84.8,313.2 84.8,374 55.1,382" fill="#2d2f34"  stroke="#2d2f34" stroke-width="0.5" stroke-linejoin="round"/>
<polygon points="2.1,333.9 55.1,339.2 55.1,382 2.1,379" fill="#4a5365"  stroke="#4a5365" stroke-width="0.5" stroke-linejoin="round"/>
<path d="M2.1,334 L55.1,339.3" fill="none" stroke="#5d677a" stroke-width="1" />
<polygon points="2,361.5 55,365 55,367.5 2,364" fill="#1e2126"  stroke="#1e2126" stroke-width="0.5" stroke-linejoin="round"/>
<circle cx="7.0" cy="371.0" r="3.5" fill="#2d3036" stroke="#8f959d" stroke-width="0.9"/>
<circle cx="7.0" cy="371.0" r="1.9" fill="#6d737b" />
<rect x="6.6" y="369.2" width="0.8" height="3.6" fill="#d0d3d7" />
<circle cx="15.6" cy="371.55" r="3.5" fill="#2d3036" stroke="#8f959d" stroke-width="0.9"/>
<circle cx="15.6" cy="371.55" r="1.9" fill="#6d737b" />
<rect x="15.2" y="369.75" width="0.8" height="3.6" fill="#d0d3d7" />
<circle cx="24.2" cy="372.1" r="3.5" fill="#2d3036" stroke="#8f959d" stroke-width="0.9"/>
<circle cx="24.2" cy="372.1" r="1.9" fill="#6d737b" />
<rect x="23.8" y="370.3" width="0.8" height="3.6" fill="#d0d3d7" />
<circle cx="32.8" cy="372.65" r="3.5" fill="#2d3036" stroke="#8f959d" stroke-width="0.9"/>
<circle cx="32.8" cy="372.65" r="1.9" fill="#6d737b" />
<rect x="32.4" y="370.84999999999997" width="0.8" height="3.6" fill="#d0d3d7" />
<circle cx="41.4" cy="373.2" r="3.5" fill="#2d3036" stroke="#8f959d" stroke-width="0.9"/>
<circle cx="41.4" cy="373.2" r="1.9" fill="#6d737b" />
<rect x="41.0" y="371.4" width="0.8" height="3.6" fill="#d0d3d7" />
<circle cx="50.0" cy="373.75" r="3.5" fill="#2d3036" stroke="#8f959d" stroke-width="0.9"/>
<circle cx="50.0" cy="373.75" r="1.9" fill="#6d737b" />
<rect x="49.6" y="371.95" width="0.8" height="3.6" fill="#d0d3d7" />
<rect x="19" y="359" width="17.0" height="4.0" fill="#5b9c9f" />
<rect x="44" y="342.5" width="5.0" height="2.0" fill="#1e2126" />
<circle cx="33" cy="347" r="3.6" fill="none" stroke="#1f2228" stroke-width="1.2"/>
<circle cx="44.5" cy="352" r="3.6" fill="none" stroke="#1f2228" stroke-width="1.2"/>
<rect x="22" y="349" width="6.0" height="3.0" fill="#e6e6e6" />
<path d="M2,352 L55,357" fill="none" stroke="#3d4555" stroke-width="0.8" />
</g>
<circle cx="25" cy="299.8" r="8.1" fill="#f5d6b0" stroke="#3a3f44" stroke-width="1.1"/>
<text x="25" y="303.90000000000003" text-anchor="middle" font-size="11.5" letter-spacing="-0.6" fill="#111" stroke="#111" stroke-width="0.25">7</text>
<circle cx="113.4" cy="312.1" r="8.1" fill="#f5d6b0" stroke="#3a3f44" stroke-width="1.1"/>
<text x="113.4" y="316.20000000000005" text-anchor="middle" font-size="11.5" letter-spacing="-0.6" fill="#111" stroke="#111" stroke-width="0.25">8</text>
<circle cx="201.7" cy="323.1" r="8.1" fill="#f5d6b0" stroke="#3a3f44" stroke-width="1.1"/>
<text x="201.7" y="327.20000000000005" text-anchor="middle" font-size="11.5" letter-spacing="-0.6" fill="#111" stroke="#111" stroke-width="0.25">9</text>
<polygon points="412.4,308.9 423.6,301.8 437.7,303 437.7,338.3 428.3,345.4 412.4,344.2" fill="#1c1c1f"  stroke="#1c1c1f" stroke-width="0.5" stroke-linejoin="round"/>
<polygon points="428.3,309.5 437.7,303 437.7,338.3 428.3,345.4" fill="#28282c"  stroke="#28282c" stroke-width="0.5" stroke-linejoin="round"/>
<rect x="422" y="344" width="5.5" height="8.0" fill="#1c1c1f" />
<rect x="423" y="313" width="3.0" height="3.0" fill="#e0e840" />
<rect x="423" y="342" width="3.0" height="3.0" fill="#e0e840" />
<circle cx="404.1" cy="351.9" r="8.1" fill="#c6d9e5" stroke="#3a3f44" stroke-width="1.1"/>
<text x="404.1" y="356.0" text-anchor="middle" font-size="11.5" letter-spacing="-0.6" fill="#111" stroke="#111" stroke-width="0.25">10</text>
<rect x="158" y="432" width="14" height="39" rx="2" fill="#141518"/>
<circle cx="172" cy="451" r="7" fill="#141518" />
<polygon points="98.4,451.9 132.5,426.2 159.4,429.5 162.7,430 128.6,448.6" fill="#26282d"  stroke="#26282d" stroke-width="0.5" stroke-linejoin="round"/>
<polygon points="128.6,448.6 162.7,430 162.7,487 128.6,516" fill="#2d3037"  stroke="#2d3037" stroke-width="0.5" stroke-linejoin="round"/>
<polygon points="98.4,451.9 128.6,448.6 128.6,515.7 98.4,519.6" fill="#4a5466"  stroke="#4a5466" stroke-width="0.5" stroke-linejoin="round"/>
<circle cx="107.1" cy="465" r="3.6" fill="#16191e" />
<circle cx="118.4" cy="465" r="3.6" fill="#16191e" />
<rect x="107" y="474" width="16.0" height="29.0" fill="none" stroke="#3c4656" stroke-width="1"/>
<circle cx="101.5" cy="488.6" r="3" fill="#bcd6ee" />
<circle cx="121.3" cy="491.4" r="3.6" fill="#e6c82e" />
<rect x="102" y="452" width="24.0" height="3.0" fill="#1e2530" />
<path d="M138,476 L144,472 M138,480 L144,476" fill="none" stroke="#141518" stroke-width="1.5" />
<path d="M154,460 L160,456 M154,464 L160,460" fill="none" stroke="#141518" stroke-width="1.5" />
<circle cx="121.3" cy="418.8" r="8.1" fill="#c6d9e5" stroke="#3a3f44" stroke-width="1.1"/>
<text x="121.3" y="422.90000000000003" text-anchor="middle" font-size="11.5" letter-spacing="-0.6" fill="#111" stroke="#111" stroke-width="0.25">11</text>
<rect x="75.5" y="540.5" width="26.0" height="18.5" fill="#e4dfd4" />
<rect x="75.5" y="540.5" width="26.0" height="7.5" fill="#3b3b3b" />
<rect x="78.5" y="541.8" width="20.0" height="2.7" fill="#77736d" />
<rect x="84.2" y="548" width="0.8" height="11.0" fill="#bdb8ad" />
<rect x="99.5" y="548" width="2.0" height="11.0" fill="#cfcac0" />
<circle cx="69.4" cy="530" r="8.1" fill="#c6d9e5" stroke="#3a3f44" stroke-width="1.1"/>
<text x="69.4" y="534.1" text-anchor="middle" font-size="11.5" letter-spacing="-0.6" fill="#111" stroke="#111" stroke-width="0.25">12</text>
<rect x="628.5999999999999" y="318" width="2.4" height="16.0" fill="#f2eeee" />
<rect x="630.1999999999999" y="318" width="0.8" height="16.0" fill="#bbb" />
<rect x="627.3" y="331" width="5.0" height="12.0" fill="#1f2024" />
<rect x="684.6999999999999" y="324.6" width="2.4" height="16.0" fill="#f2eeee" />
<rect x="686.3" y="324.6" width="0.8" height="16.0" fill="#bbb" />
<rect x="683.4" y="337.6" width="5.0" height="12.0" fill="#1f2024" />
<polygon points="578.6,338 583,336.5 690.7,349 690.7,359 578.6,347" fill="#1f2024"  stroke="#1f2024" stroke-width="0.5" stroke-linejoin="round"/>
<rect x="686" y="348" width="5.0" height="11.0" fill="#1f2024" />
<rect x="591.9" y="359.86" width="3.2" height="14.0" fill="#ecd3cc" />
<rect x="594.3" y="359.86" width="0.8" height="14.0" fill="#b8a39c" />
<rect x="590.5" y="372.86" width="6.0" height="10.0" fill="#1f2024" />
<rect x="610.0" y="361.95959999999997" width="3.2" height="14.0" fill="#ecd3cc" />
<rect x="612.4" y="361.95959999999997" width="0.8" height="14.0" fill="#b8a39c" />
<rect x="608.6" y="374.95959999999997" width="6.0" height="10.0" fill="#1f2024" />
<rect x="628.1999999999999" y="364.07079999999996" width="3.2" height="14.0" fill="#ecd3cc" />
<rect x="630.5999999999999" y="364.07079999999996" width="0.8" height="14.0" fill="#b8a39c" />
<rect x="626.8" y="377.07079999999996" width="6.0" height="10.0" fill="#1f2024" />
<rect x="648.0" y="366.3676" width="3.2" height="14.0" fill="#ecd3cc" />
<rect x="650.4" y="366.3676" width="0.8" height="14.0" fill="#b8a39c" />
<rect x="646.6" y="379.3676" width="6.0" height="10.0" fill="#1f2024" />
<rect x="666.1" y="368.4672" width="3.2" height="14.0" fill="#ecd3cc" />
<rect x="668.5" y="368.4672" width="0.8" height="14.0" fill="#b8a39c" />
<rect x="664.7" y="381.4672" width="6.0" height="10.0" fill="#1f2024" />
<rect x="684.3" y="370.5784" width="3.2" height="14.0" fill="#ecd3cc" />
<rect x="686.6999999999999" y="370.5784" width="0.8" height="14.0" fill="#b8a39c" />
<rect x="682.9" y="383.5784" width="6.0" height="10.0" fill="#1f2024" />
<polygon points="583.5,380.7 697.4,393.9 697.4,403.8 583.5,390.6" fill="#1f2024"  stroke="#1f2024" stroke-width="0.5" stroke-linejoin="round"/>
<circle cx="702" cy="370.7" r="8.1" fill="#c6d9e5" stroke="#3a3f44" stroke-width="1.1"/>
<text x="702" y="374.8" text-anchor="middle" font-size="11.5" letter-spacing="-0.6" fill="#111" stroke="#111" stroke-width="0.25">19</text>
<polygon points="577,420.3 582,418 636.4,425.2 636.4,427 577,423" fill="#8292a8"  stroke="#8292a8" stroke-width="0.5" stroke-linejoin="round"/>
<polygon points="577,423 636.4,427 636.4,446.7 577,441.7" fill="#6b7b93"  stroke="#6b7b93" stroke-width="0.5" stroke-linejoin="round"/>
<polygon points="625,426 636.4,425.2 636.4,446.7 625,445.5" fill="#5a6980"  stroke="#5a6980" stroke-width="0.5" stroke-linejoin="round"/>
<circle cx="588.5" cy="437.8" r="3.2" fill="#1f2530" />
<circle cx="619.9" cy="439" r="3.2" fill="#1f2530" />
<path d="M590,406 L596,432" fill="none" stroke="#2a2a2a" stroke-width="2" />
<path d="M602,406 L609,434" fill="none" stroke="#2a2a2a" stroke-width="2" />
<circle cx="647.8" cy="415" r="8.1" fill="#c6d9e5" stroke="#3a3f44" stroke-width="1.1"/>
<text x="647.8" y="419.1" text-anchor="middle" font-size="11.5" letter-spacing="-0.6" fill="#111" stroke="#111" stroke-width="0.25">15</text>
<polygon points="486.4,496 493.3,492.5 543.3,495.3 540.5,497.6" fill="#3c3c3f"  stroke="#3c3c3f" stroke-width="0.5" stroke-linejoin="round"/>
<polygon points="486.4,496 540.5,497.6 543.3,495.3 543.3,538 540,540.2 522,540.2 522,531 486.4,528.7" fill="#2a2a2d"  stroke="#2a2a2d" stroke-width="0.5" stroke-linejoin="round"/>
<rect x="524" y="520" width="8.0" height="18.0" fill="#121214" />
<rect x="526" y="524" width="4.0" height="5.0" fill="#9a9a9a" />
<polygon points="469,552 471,548 482,545 487,548 497,546 501,549 511,547 515,550 525.5,550 525,577 469,575" fill="#2e2e31"  stroke="#2e2e31" stroke-width="0.5" stroke-linejoin="round"/>
<rect x="472" y="555" width="6.0" height="9.0" fill="#18181b" />
<rect x="484" y="556" width="6.0" height="9.0" fill="#18181b" />
<rect x="494" y="559" width="6.0" height="9.0" fill="#18181b" />
<rect x="502" y="557" width="6.0" height="9.0" fill="#18181b" />
<rect x="511" y="558" width="6.0" height="9.0" fill="#18181b" />
<polygon points="469,566 525,568 525,571 469,569" fill="#3b3b3f"  stroke="#3b3b3f" stroke-width="0.5" stroke-linejoin="round"/>
<ellipse cx="498" cy="584" rx="11.5" ry="9.5" fill="none" stroke="#2b2b2e" stroke-width="5"/>
<rect x="505" y="578" width="13.0" height="18.0" fill="#2e2e31" />
<rect x="472" y="575" width="8.0" height="7.0" fill="#2e2e31" />
<circle cx="551.9" cy="487.1" r="8.1" fill="#c6d9e5" stroke="#3a3f44" stroke-width="1.1"/>
<text x="551.9" y="491.20000000000005" text-anchor="middle" font-size="11.5" letter-spacing="-0.6" fill="#111" stroke="#111" stroke-width="0.25">14</text>
<rect x="593.6" y="503.2" width="4.2" height="14.800000000000011" rx="2" fill="#e3a9a0"/>
<rect x="594.7" y="504.7" width="1.4" height="13.3" fill="#f6dcd6" />
<rect x="608.0" y="505.3" width="4.2" height="14.699999999999989" rx="2" fill="#e3a9a0"/>
<rect x="609.1" y="506.8" width="1.4" height="13.2" fill="#f6dcd6" />
<rect x="622.0" y="507" width="4.2" height="15" rx="2" fill="#e3a9a0"/>
<rect x="623.1" y="508.5" width="1.4" height="13.5" fill="#f6dcd6" />
<polygon points="592.4,518 599,517 599,520 606,521 606,518.5 614,519 614,523 621,523.5 621,521 627.4,521.5 627.4,529.6 616.3,531.3 592.4,528" fill="#4d5361"  stroke="#4d5361" stroke-width="0.5" stroke-linejoin="round"/>
<polygon points="594.8,530 620.4,531.3 620.4,552.7 616.3,553 616.3,558.5 599,558.5 599,553 594.8,552.7" fill="#4a4f5c"  stroke="#4a4f5c" stroke-width="0.5" stroke-linejoin="round"/>
<polygon points="613,531 620.4,531.3 620.4,552.7 613,553" fill="#3d424d"  stroke="#3d424d" stroke-width="0.5" stroke-linejoin="round"/>
<circle cx="601.8" cy="546.1" r="4.6" fill="#41464f" />
<circle cx="601.3" cy="545.6" r="2.6" fill="#555b66" />
<circle cx="635.5" cy="497.7" r="8.1" fill="#c6d9e5" stroke="#3a3f44" stroke-width="1.1"/>
<text x="635.5" y="501.8" text-anchor="middle" font-size="11.5" letter-spacing="-0.6" fill="#111" stroke="#111" stroke-width="0.25">13</text>
<path d="M460,293 L460,425 Q461,444 478,446 L598,460 Q612.5,462 612.5,476 L612.5,497" fill="none" stroke="#a9c5da" stroke-width="6.8" />
<path d="M510,450 Q527,452 527,468 L527,486" fill="none" stroke="#a9c5da" stroke-width="6.8" />
<path d="M544,453.8 Q527,452 527,468" fill="none" stroke="#a9c5da" stroke-width="6.8" />
<path d="M479,293 L479,404 Q480,421 496,423 L569,432" fill="none" stroke="#a9c5da" stroke-width="6.8" />
<path d="M497,293 L497,338 Q498,356 514,358 L585,368" fill="none" stroke="#a9c5da" stroke-width="6.8" />
<defs><linearGradient id="gb12" gradientUnits="userSpaceOnUse" x1="110" y1="0" x2="165" y2="0"><stop offset="0" stop-color="#a9c5da"/><stop offset="0.35" stop-color="#a9c5da"/><stop offset="0.55" stop-color="#dfeaf2"/><stop offset="0.85" stop-color="#a9c5da"/></linearGradient><linearGradient id="gb11" gradientUnits="userSpaceOnUse" x1="170" y1="0" x2="222" y2="0"><stop offset="0" stop-color="#a9c5da"/><stop offset="0.45" stop-color="#a9c5da"/><stop offset="0.7" stop-color="#dfeaf2"/><stop offset="1" stop-color="#a9c5da"/></linearGradient><linearGradient id="go9" gradientUnits="userSpaceOnUse" x1="262" y1="0" x2="316" y2="0"><stop offset="0" stop-color="#f2c48e"/><stop offset="0.45" stop-color="#f2c48e"/><stop offset="0.7" stop-color="#f8e6d2"/><stop offset="1" stop-color="#f2c48e"/></linearGradient><linearGradient id="go6" gradientUnits="userSpaceOnUse" x1="355" y1="0" x2="410" y2="0"><stop offset="0" stop-color="#f2c48e"/><stop offset="0.45" stop-color="#f2c48e"/><stop offset="0.7" stop-color="#f8e6d2"/><stop offset="1" stop-color="#f2c48e"/></linearGradient></defs>
<path d="M162,545 L462,243" fill="none" stroke="#a9c5da" stroke-width="6.8" />
<path d="M110,551.5 L146,552 Q156,552 163,544" fill="none" stroke="url(#gb12)" stroke-width="8.5" />
<path d="M170,490 L206,492 Q214,492 221,485" fill="none" stroke="url(#gb11)" stroke-width="8.5" />
<path d="M309,390.5 L459,239.5" fill="none" stroke="#f2c48e" stroke-width="4" />
<path d="M262,395 L296,395.5 Q306,395.5 314,386" fill="none" stroke="url(#go9)" stroke-width="8.5" />
<path d="M354,300.8 L392,301.8 Q401,301.8 408,292" fill="none" stroke="url(#go6)" stroke-width="8.5" />
<path d="M441,298 L478,257" fill="none" stroke="#adc8dc" stroke-width="6" />
<polygon points="473,258 476,246.7 487,246.7 482,260" fill="#adc8dc"  stroke="#adc8dc" stroke-width="0.5" stroke-linejoin="round"/>
</svg>
<div id="txt">
<div class="c w" style="left:0.7px;top:610.4px">1</div>
<div class="t" style="left:22.4px;top:612.1px;">Schütz, Baugröße S0</div>
<div class="c o" style="left:0.7px;top:640.0px">2</div>
<div class="t" style="left:22.4px;top:641.7px;">2-poliger Hilfsschalter, seitlich anbaubar</div>
<div class="c o" style="left:0.7px;top:659.0px">3</div>
<div class="t" style="left:22.4px;top:660.7px;">1-poliger Hilfsschalter, frontseitig aufschnappbar,</div>
<div class="t" style="left:22.4px;top:674.8px;">Leitungseinführung von oben</div>
<div class="c o" style="left:0.7px;top:693.2px">4</div>
<div class="t" style="left:22.4px;top:694.9px;">2-poliger Hilfsschalter, frontseitig aufschnappbar,</div>
<div class="t" style="left:22.4px;top:709.0px;">Leitungseinführung von unten</div>
<div class="c o" style="left:0.7px;top:727.1px">5</div>
<div class="t" style="left:22.4px;top:728.8px;">4-poliger Hilfsschalter, frontseitig aufschnappbar</div>
<div class="c o" style="left:0.7px;top:746.5px">6</div>
<div class="t" style="left:22.4px;top:748.2px;">Pneumatisch verzögerter Hilfsschalter</div>
<div class="c o" style="left:0.7px;top:766.0px">7</div>
<div class="t" style="left:22.4px;top:767.7px;">Funktionsmodul 3RA27 für AS-Interface</div>
<div class="c o" style="left:0.7px;top:785.1px">8</div>
<div class="t" style="left:22.4px;top:786.8px;">Funktionsmodul 3RA27 für IO-Link</div>
<div class="c o" style="left:0.7px;top:805.4px">9</div>
<div class="t" style="left:22.4px;top:807.1px;">Funktionsmodul 3RA28</div>
<div class="c b" style="left:0.7px;top:825.2px">10</div>
<div class="t" style="left:22.4px;top:826.9px;">Überspannungsbegrenzer mit/ohne LED</div>
<div class="c b" style="left:0.7px;top:844.9px">11</div>
<div class="t" style="left:22.4px;top:846.6px;">Mechanischer Verklinkblock</div>
<div class="c b" style="left:0.7px;top:864.0px">12</div>
<div class="t" style="left:22.4px;top:865.7px;">Abdeckung plombierbar</div>
<div class="c b" style="left:443.2px;top:639.5px">13</div>
<div class="t" style="left:466.1px;top:641.2px;">Parallelschaltverbindung, 3-polig, mit Anschlussklemme</div>
<div class="c b" style="left:443.2px;top:658.7px">14</div>
<div class="t" style="left:466.1px;top:660.4px;">Anschlussmodul (Adapter und Stecker) für Schütze</div>
<div class="t" style="left:466.1px;top:675.1px;">mit Schraubanschluss</div>
<div class="c b" style="left:443.2px;top:692.9px">15</div>
<div class="t" style="left:466.1px;top:694.6px;">Spulenanschlussmodul, oben oder unten</div>
<div class="c b" style="left:443.2px;top:712.2px">16</div>
<div class="t" style="left:466.1px;top:713.9px;">3-Phasen-Einspeiseklemme</div>
<div class="c b" style="left:443.2px;top:731.6px">17</div>
<div class="t" style="left:466.1px;top:733.3px;">Parallelschaltverbindung (Sternpunktbrücke), 3-polig,</div>
<div class="t" style="left:466.1px;top:747.8px;">ohne Anschlussklemme</div>
<div class="c b" style="left:443.2px;top:765.5px">18</div>
<div class="t" style="left:466.1px;top:767.2px;">Safety Hauptstromverbinder für zwei Schütze</div>
<div class="t" style="left:444.9px;top:794.2px;">Bausatz 3RA2923-2AA1</div>
<div class="t" style="left:444.9px;top:807.6px;">bestehend aus:</div>
<div class="c b" style="left:468.2px;top:823.6px">19</div>
<div class="t" style="left:493.0px;top:825.3px;">Verdrahtungsbausteine oben und unten zur Verbindung</div>
<div class="t" style="left:493.0px;top:839.4px;">der Hauptstrombahnen mit elektrischer Verriegelung</div>
<div class="t" style="left:493.0px;top:853.4px;">(Öffnerverriegelung)</div>
<div class="c b" style="left:468.2px;top:872.3px">20</div>
<div class="t" style="left:493.0px;top:874.0px;">Mechanische Verriegelung<sup>1)</sup></div>
<div class="c b" style="left:468.2px;top:892.1px">21</div>
<div class="t" style="left:493.0px;top:893.8px;">Zwei Verbindungsclips für zwei Schütze<sup>1)</sup></div>
<div class="c" style="left:445px;top:934.6px;background:#f5d8b3;border-color:#8a7a68"></div>
<div class="c" style="left:445px;top:953.7px;background:#bcd4e5;border-color:#56646e"></div>
<div class="t" style="left:469.6px;top:936.3px;">für Schütze</div>
<div class="t" style="left:469.6px;top:954.9px;">für Schütze und Koppelschütze</div>
<div class="t" style="left:3.2px;top:968.4px;font-size:9.5px;">1)</div>
<div class="t" style="left:14.6px;top:970.3px;">Die Teile</div>
<div class="c b" style="left:68.8px;top:968.9px">20</div>
<div class="t" style="left:91.4px;top:970.3px;">und</div>
<div class="c b" style="left:117.7px;top:968.9px">21</div>
<div class="t" style="left:140.2px;top:970.3px;">sind nur gemeinsam als mechanische</div>
<div class="t" style="left:14.6px;top:984.4px;">Verbinder 3RA2922-2H bestellbar.</div>
</div>
</body></html>
